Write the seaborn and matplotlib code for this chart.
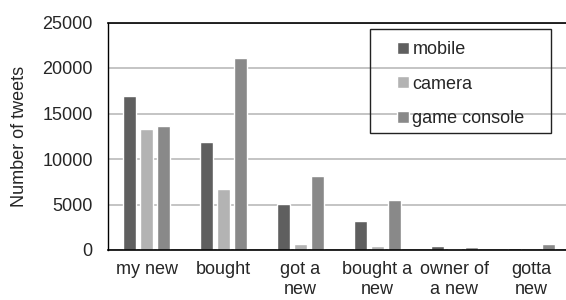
import pandas as pd
import matplotlib
matplotlib.use('Agg')
import matplotlib.pyplot as plt
from matplotlib.patches import Rectangle
import seaborn as sns

# Dữ liệu
phrases = ['my new', 'bought', 'got a\nnew', 'bought a\nnew', 'owner of\na new', 'gotta\nnew']
mobile = [16900, 11850, 5100, 3200, 480, 230]
camera = [13250, 6700, 650, 400, 120, 20]
game_console = [13600, 21150, 8100, 5500, 320, 680]
series = ['mobile', 'camera', 'game console']
colors = ['#5f5f5f', '#b3b3b3', '#898989']
yticks = [0, 5000, 10000, 15000, 20000, 25000]

df = pd.DataFrame({
    'phrase': phrases * 3,
    'device': [s for s in series for _ in phrases],
    'tweets': mobile + camera + game_console,
})

sns.set_style('white')
plt.rcParams['font.family'] = ['Liberation Sans', 'DejaVu Sans']
plt.rcParams['font.size'] = 13

fig = plt.figure(figsize=(5.66, 3.0), dpi=100)
ax = fig.add_axes([108 / 566, 50 / 300, 462 / 566, 227.5 / 300])

sns.barplot(data=df, x='phrase', y='tweets', hue='device', order=phrases,
            hue_order=series, palette=dict(zip(series, colors)),
            width=0.66, gap=0.23, saturation=1, legend=False, ax=ax)

ax.set_ylim(0, 25000)
ax.set_yticks(yticks)
ax.set_xlim(-0.5, len(phrases) - 0.5)
ax.yaxis.grid(True, color='#c4c4c4', linewidth=1.4)
ax.set_axisbelow(True)
ax.tick_params(axis='both', length=0, labelsize=13)
ax.tick_params(axis='y', pad=11)
ax.tick_params(axis='x', pad=8)
ax.set_xlabel('')
ax.set_ylabel('Number of tweets', fontsize=13, labelpad=10)

for side in ['left', 'top', 'bottom']:
    ax.spines[side].set_visible(True)
    ax.spines[side].set_color('black')
ax.spines['left'].set_linewidth(1.0)
ax.spines['top'].set_linewidth(1.2)
ax.spines['bottom'].set_linewidth(1.2)
ax.spines['right'].set_visible(False)

# Chú thích
handles = [Rectangle((0, 0), 1, 1, facecolor=c) for c in colors]
fig.legend(handles, series, loc='upper left', bbox_to_anchor=(388 / 566, 1 - 32 / 300),
           frameon=False, fontsize=13, borderpad=0, labelspacing=0.98,
           handlelength=0.65, handleheight=0.65, handletextpad=0.2)
fig.patches.append(Rectangle((370 / 566, 1 - 133 / 300), 181 / 566, 104 / 300,
                             transform=fig.transFigure, fill=False,
                             edgecolor='#222222', linewidth=1.0))

fig.savefig('out.png', dpi=100)
